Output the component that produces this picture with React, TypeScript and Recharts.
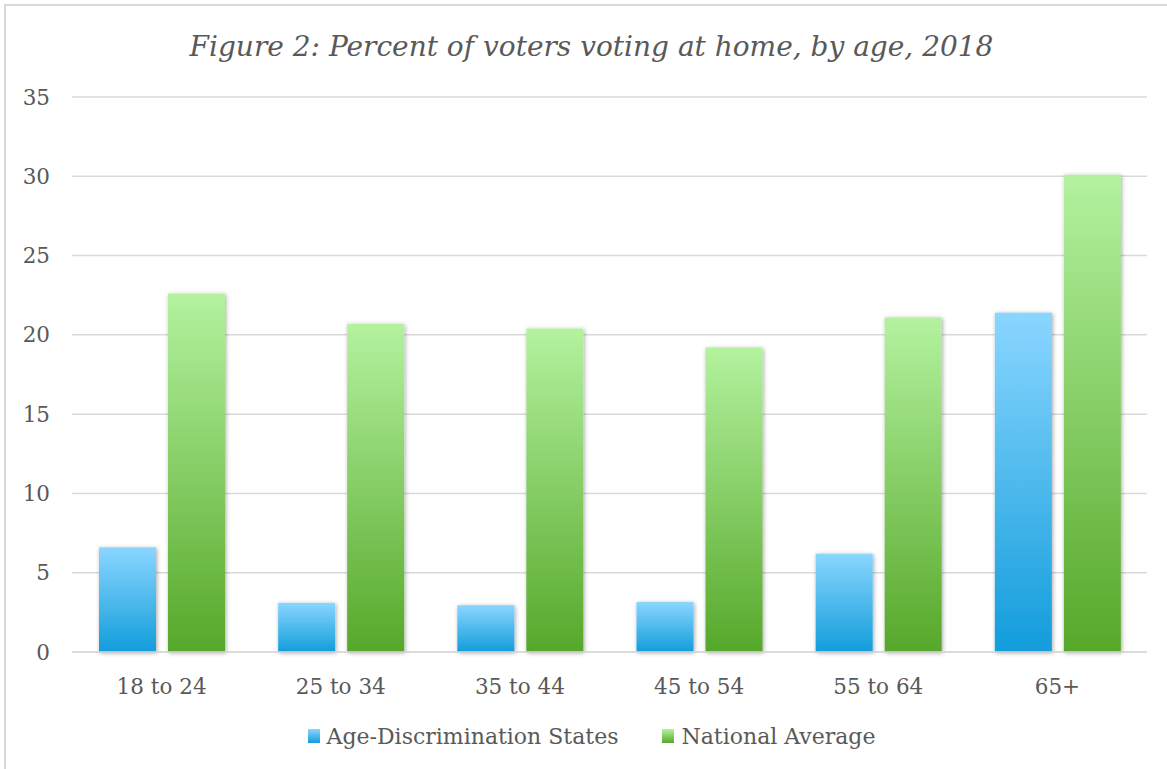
import React from 'react';
import { BarChart, Bar, XAxis, YAxis, CartesianGrid } from 'recharts';

const categories = ['18 to 24', '25 to 34', '35 to 44', '45 to 54', '55 to 64', '65+'];
const ageDiscriminationStates = [6.6, 3.1, 2.95, 3.15, 6.2, 21.4];
const nationalAverage = [22.6, 20.7, 20.4, 19.2, 21.1, 30.1];
const yTicks = [0, 5, 10, 15, 20, 25, 30, 35];
const seriesNames = ['Age-Discrimination States', 'National Average'];
const titleText = 'Figure 2: Percent of voters voting at home, by age, 2018';

const data = categories.map((category, i) => ({
  category,
  ads: ageDiscriminationStates[i],
  nat: nationalAverage[i],
}));

const FONT = '"DejaVu Serif", serif';
const TEXT = '#595959';
const GRID = '#d9d9d9';

const BarShape = (props: any) => {
  const { x, y, width, height, fill } = props;
  if (!height || height <= 0) return null;
  return <rect x={x} y={y} width={width} height={height} fill={fill} filter="url(#barShadow)" />;
};

const LegendSwatch = ({ top, bottom }: { top: string; bottom: string }) => (
  <span
    style={{
      display: 'inline-block',
      width: 12,
      height: 14,
      background: `linear-gradient(${top}, ${bottom})`,
      marginRight: 7,
      verticalAlign: 'middle',
      position: 'relative',
      top: -2,
    }}
  />
);

export default function App() {
  return (
    <div
      style={{
        position: 'fixed',
        left: 0,
        top: 0,
        width: 1167,
        height: 769,
        overflow: 'hidden',
        background: '#fff',
      }}
    >
      <div
        style={{
          position: 'absolute',
          left: 4,
          top: 4,
          width: 1200,
          height: 800,
          borderLeft: `2px solid ${GRID}`,
          borderTop: `2px solid ${GRID}`,
        }}
      />
      <div
        style={{
          position: 'absolute',
          left: 0,
          top: 33,
          width: 1183,
          textAlign: 'center',
          fontFamily: FONT,
          fontStyle: 'italic',
          fontSize: 28,
          lineHeight: '28px',
          color: TEXT,
          whiteSpace: 'nowrap',
        }}
      >
        {titleText}
      </div>
      <div style={{ position: 'absolute', left: 0, top: 0 }}>
        <BarChart
          width={1167}
          height={769}
          data={data}
          margin={{ top: 97, right: 20, bottom: 87, left: 0 }}
          barGap={12}
          barSize={57}
        >
          <defs>
            <linearGradient id="blueGrad" x1="0" y1="0" x2="0" y2="1">
              <stop offset="0%" stopColor="#8AD6FF" />
              <stop offset="100%" stopColor="#129DDB" />
            </linearGradient>
            <linearGradient id="greenGrad" x1="0" y1="0" x2="0" y2="1">
              <stop offset="0%" stopColor="#B4F29F" />
              <stop offset="100%" stopColor="#56A82A" />
            </linearGradient>
            <filter id="barShadow" x="-20%" y="-5%" width="140%" height="115%">
              <feDropShadow dx="1" dy="1" stdDeviation="2.2" floodColor="#000" floodOpacity="0.35" />
            </filter>
          </defs>
          <CartesianGrid vertical={false} stroke={GRID} strokeWidth={1.5} />
          <XAxis
            dataKey="category"
            height={30}
            tickLine={false}
            axisLine={{ stroke: GRID, strokeWidth: 1.5 }}
            tickMargin={21}
            tick={{ fill: TEXT, fontSize: 21.5, fontFamily: FONT }}
            interval={0}
          />
          <YAxis
            width={72}
            domain={[0, 35]}
            ticks={yTicks}
            tickLine={false}
            axisLine={false}
            tickMargin={16}
            tick={{ fill: TEXT, fontSize: 21.5, fontFamily: FONT }}
          />
          <Bar
            dataKey="ads"
            name={seriesNames[0]}
            fill="url(#blueGrad)"
            shape={BarShape}
            isAnimationActive={false}
          />
          <Bar
            dataKey="nat"
            name={seriesNames[1]}
            fill="url(#greenGrad)"
            shape={BarShape}
            isAnimationActive={false}
          />
        </BarChart>
      </div>
      <div
        style={{
          position: 'absolute',
          left: 0,
          top: 724,
          width: 1183,
          textAlign: 'center',
          fontFamily: FONT,
          fontSize: 22,
          lineHeight: '26px',
          color: TEXT,
          whiteSpace: 'nowrap',
        }}
      >
        <span style={{ marginRight: 44 }}>
          <LegendSwatch top="#8AD6FF" bottom="#129DDB" />
          {seriesNames[0]}
        </span>
        <span>
          <LegendSwatch top="#B4F29F" bottom="#56A82A" />
          {seriesNames[1]}
        </span>
      </div>
    </div>
  );
}
